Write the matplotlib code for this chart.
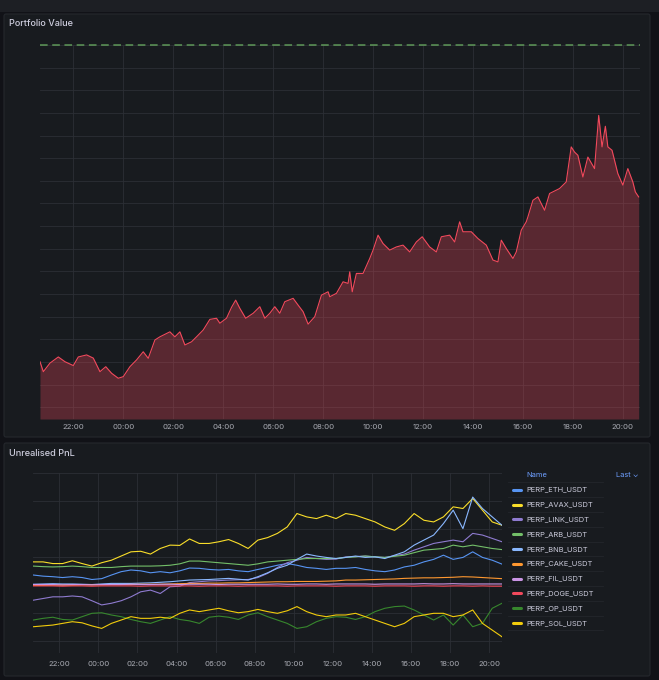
import datetime as dt

import matplotlib
matplotlib.use("Agg")
import matplotlib.pyplot as plt
import matplotlib.dates as mdates
from matplotlib.patches import FancyBboxPatch, Rectangle
from matplotlib.lines import Line2D
import numpy as np
import pandas as pd

plt.rcParams['font.family'] = ['Inter', 'DejaVu Sans']

# ---- data ----
pv_times = ["20:40", "20:48", "21:04", "21:24", "21:40", "22:00", "22:12", "22:32", "22:48", "23:04",
            "23:18", "23:32", "23:48", "00:00", "00:16", "00:32", "00:48", "01:00", "01:16", "01:28",
            "01:52", "02:04", "02:16", "02:28", "02:44", "02:56", "03:12", "03:28", "03:44", "03:52",
            "04:08", "04:20", "04:30", "04:40", "04:54", "05:12", "05:28", "05:40", "05:52", "06:04",
            "06:16", "06:28", "06:48", "07:00", "07:12", "07:24", "07:40", "07:56", "08:12", "08:16",
            "08:32", "08:48", "09:00", "09:04", "09:10", "09:20", "09:36", "09:52", "10:00", "10:12",
            "10:24", "10:40", "10:56", "11:12", "11:28", "11:44", "11:58", "12:16", "12:32", "12:44",
            "13:04", "13:16", "13:28", "13:36", "13:56", "14:12", "14:32", "14:48", "15:00", "15:08",
            "15:20", "15:36", "15:44", "15:56", "16:08", "16:12", "16:24", "16:36", "16:52", "17:04",
            "17:28", "17:44", "17:56", "18:04", "18:12", "18:24", "18:36", "18:52", "19:02", "19:10",
            "19:18", "19:24", "19:34", "19:48", "20:00", "20:12", "20:24", "20:30", "20:38"]
pv_values = [1030.1, 1025.7, 1029.5, 1032.2, 1030.1, 1028.4, 1032.2, 1033.1, 1031.7, 1025.7,
             1027.9, 1025.0, 1022.8, 1023.5, 1027.9, 1030.9, 1034.5, 1031.6, 1039.7, 1041.1,
             1043.3, 1041.1, 1043.3, 1037.5, 1038.9, 1041.1, 1044.1, 1048.8, 1049.3, 1047.1,
             1049.3, 1054.1, 1057.3, 1053.7, 1049.3, 1051.5, 1054.4, 1049.3, 1051.5, 1054.4,
             1051.5, 1056.6, 1058.1, 1055.1, 1052.2, 1046.7, 1050.0, 1059.5, 1061.0, 1058.8,
             1060.3, 1065.4, 1064.7, 1069.8, 1061.0, 1069.1, 1069.1, 1075.7, 1079.4, 1086.0,
             1082.3, 1079.4, 1080.8, 1081.6, 1078.6, 1083.0, 1085.3, 1080.8, 1078.6, 1085.3,
             1086.0, 1083.0, 1091.9, 1087.5, 1087.5, 1084.5, 1081.6, 1075.0, 1074.2, 1083.8,
             1080.1, 1075.7, 1078.6, 1088.2, 1091.9, 1094.1, 1101.4, 1102.9, 1097.0, 1104.4,
             1106.6, 1109.5, 1125.0, 1122.7, 1121.3, 1111.7, 1120.5, 1115.4, 1138.9, 1125.0,
             1134.1, 1125.0, 1123.5, 1113.2, 1108.1, 1115.4, 1109.5, 1105.1, 1102.9]
pv_threshold = 1170

series_names = ["PERP_ETH_USDT", "PERP_AVAX_USDT", "PERP_LINK_USDT", "PERP_ARB_USDT", "PERP_BNB_USDT",
                "PERP_CAKE_USDT", "PERP_FIL_USDT", "PERP_DOGE_USDT", "PERP_OP_USDT", "PERP_SOL_USDT"]
series_colors = ["#5794f2", "#fade2a", "#8f7bd0", "#73bf69", "#8ab8ff",
                 "#ff9830", "#ca95e5", "#f2495c", "#37872d", "#f2cc0c"]

# unrealised pnl, sampled every 30 min from 20:40
eth = [3.6, 3.2, 3.0, 2.7, 3.0, 2.7, 2.0, 2.3, 3.6, 4.8, 5.4, 5.1, 4.4, 4.8, 4.4, 5.1, 6.1,
       6.0, 5.6, 5.4, 5.6, 5.1, 4.8, 5.6, 6.3, 7.1, 7.7, 7.1, 6.3, 6.0, 5.6, 6.0, 6.0,
       6.3, 5.6, 5.1, 4.8, 5.4, 6.5, 7.1, 8.3, 9.2, 10.7, 9.2, 9.9, 11.9, 9.9, 8.9, 7.5]
avax = [8.3, 8.3, 7.7, 7.7, 8.7, 7.7, 6.8, 8.0, 8.9, 10.4, 11.9, 12.1, 11.1, 13.1, 14.3, 14.2, 16.5,
        14.9, 14.9, 15.5, 16.3, 14.9, 13.1, 16.1, 17.0, 18.5, 20.8, 25.6, 24.4, 23.8, 25.0, 23.8, 25.6,
        25.0, 23.8, 22.6, 20.8, 19.6, 22.0, 25.6, 23.2, 22.6, 24.4, 28.0, 27.4, 31.0, 26.8, 22.6, 21.4]
link = [-5.4, -4.8, -4.2, -4.2, -3.9, -4.2, -5.6, -7.1, -6.5, -5.6, -4.2, -2.4, -1.8, -3.0, -0.6, -0.4, 0.9,
        1.2, 1.5, 1.6, 1.8, 1.9, 2.0, 2.7, 4.2, 6.3, 8.0, 8.9, 9.9, 9.5, 9.2, 9.3, 10.1,
        10.2, 10.4, 10.1, 9.9, 10.5, 11.1, 12.5, 13.7, 14.9, 15.5, 16.1, 15.5, 18.5, 17.9, 16.7, 15.5]
arb = [6.8, 6.6, 6.5, 6.6, 6.8, 6.6, 6.3, 6.3, 6.3, 6.6, 6.8, 6.8, 6.8, 6.9, 7.1, 7.6, 8.6,
       8.6, 8.3, 8.0, 7.7, 7.4, 7.1, 7.6, 8.3, 8.6, 8.9, 9.2, 9.5, 9.5, 9.5, 9.5, 9.9,
       10.1, 10.4, 10.1, 9.9, 10.3, 10.7, 11.6, 12.5, 12.8, 13.1, 14.3, 13.7, 14.3, 13.7, 13.1, 12.7]
bnb = [0.3, 0.4, 0.5, 0.4, 0.4, 0.3, 0.2, 0.4, 0.6, 0.6, 0.6, 0.7, 0.8, 1.0, 1.2, 1.5, 1.8,
       1.9, 2.0, 2.2, 2.4, 2.1, 1.8, 3.0, 4.4, 6.0, 7.1, 9.2, 11.1, 10.4, 9.9, 9.5, 9.9,
       10.4, 9.9, 10.1, 9.5, 10.7, 11.9, 14.3, 16.1, 17.9, 22.0, 26.8, 20.2, 31.5, 27.4, 24.4, 21.4]
cake = [-0.1, -0.1, 0.0, 0.0, 0.0, 0.1, 0.1, 0.1, 0.2, 0.2, 0.2, 0.3, 0.3, 0.3, 0.4, 0.5, 0.6,
        0.6, 0.7, 0.7, 0.8, 0.8, 0.9, 1.0, 1.1, 1.2, 1.2, 1.3, 1.3, 1.3, 1.4, 1.5, 1.8,
        1.8, 1.9, 2.0, 2.1, 2.2, 2.4, 2.5, 2.6, 2.6, 2.7, 2.8, 3.0, 2.9, 2.7, 2.5, 2.3]
fil = [0.2, 0.2, 0.2, 0.1, 0.2, 0.2, 0.1, 0.2, 0.2, 0.2, 0.3, 0.2, 0.2, 0.3, 0.3, 0.2, 0.3,
       0.3, 0.3, 0.2, 0.3, 0.3, 0.3, 0.3, 0.3, 0.4, 0.3, 0.3, 0.4, 0.4, 0.3, 0.4, 0.4,
       0.4, 0.4, 0.3, 0.4, 0.4, 0.4, 0.4, 0.5, 0.4, 0.4, 0.5, 0.4, 0.4, 0.4, 0.4, 0.4]
doge = [-0.3, -0.3, -0.3, -0.4, -0.3, -0.3, -0.4, -0.3, -0.3, -0.3, -0.3, -0.4, -0.3, -0.3, -0.3, -0.3, -0.3,
        -0.4, -0.3, -0.3, -0.3, -0.4, -0.3, -0.3, -0.3, -0.3, -0.4, -0.3, -0.3, -0.3, -0.3, -0.4, -0.3,
        -0.3, -0.3, -0.4, -0.3, -0.3, -0.3, -0.4, -0.3, -0.3, -0.4, -0.3, -0.3, -0.4, -0.3, -0.4, -0.4]
op = [-12.5, -11.9, -11.5, -12.3, -12.5, -11.3, -10.1, -9.9, -10.7, -11.3, -12.3, -13.1, -13.7, -12.5, -11.3, -12.3, -12.8,
      -13.7, -11.5, -11.1, -11.5, -12.3, -10.7, -9.9, -11.3, -12.5, -13.7, -15.5, -14.9, -13.1, -11.9, -11.3, -11.5,
      -12.3, -11.3, -9.5, -8.3, -7.7, -7.5, -8.9, -10.7, -12.5, -10.7, -14.3, -10.7, -14.9, -13.7, -8.3, -6.5]
sol = [-14.9, -14.6, -14.3, -13.7, -13.1, -13.5, -14.6, -15.5, -13.7, -12.5, -11.3, -11.9, -11.9, -11.5, -11.9, -10.1, -8.9,
       -9.5, -8.9, -8.3, -9.2, -9.9, -9.5, -8.7, -9.5, -10.1, -9.2, -7.7, -9.5, -10.7, -11.3, -10.7, -10.7,
       -10.1, -11.3, -12.5, -13.7, -14.9, -13.7, -11.3, -10.7, -10.1, -10.1, -11.3, -10.7, -8.9, -13.7, -16.1, -18.5]
pnl_series = [eth, avax, link, arb, bnb, cake, fil, doge, op, sol]

start = dt.datetime(2024, 1, 1, 20, 40)
end = start + dt.timedelta(hours=24)
pnl_times = pd.date_range(start, periods=len(eth), freq="30min")

# turn the HH:MM strings into datetimes, rolling over midnight
pv_dt = []
day = start.date()
prev = None
for s in pv_times:
    t = dt.datetime.strptime(s, "%H:%M").time()
    if prev is not None and t < prev:
        day = day + dt.timedelta(days=1)
    prev = t
    pv_dt.append(dt.datetime.combine(day, t))

# ---- figure / grafana-ish chrome ----
W, H = 659, 680
BG = "#111217"
PANEL = "#181b1f"
GRID = "#2c2f35"
TEXT = "#ccccdc"
TICK = "#a9abb3"

fig = plt.figure(figsize=(W / 100, H / 100), dpi=100, facecolor=BG)


def fx(x):
    return x / W


def fy(y):
    return 1 - y / H


fig.patches.append(Rectangle((0, fy(12)), 1, 12 / H, transform=fig.transFigure,
                             facecolor="#1d1f24", edgecolor="none", zorder=-5))
for top, bottom in [(14, 437), (443, 676)]:
    fig.patches.append(FancyBboxPatch((fx(4), fy(bottom)), fx(650) - fx(4), (bottom - top) / H,
                                      boxstyle="round,pad=0,rounding_size=0.003",
                                      transform=fig.transFigure, facecolor=PANEL,
                                      edgecolor="#25282d", linewidth=0.8, zorder=-5))

fig.text(fx(9), fy(24), "Portfolio Value", color=TEXT, fontsize=6.6, fontweight="medium", va="center")
fig.text(fx(9), fy(453), "Unrealised PnL", color=TEXT, fontsize=6.6, fontweight="medium", va="center")


def style_axes(ax, pad):
    ax.set_facecolor(PANEL)
    for sp in ax.spines.values():
        sp.set_visible(False)
    ax.grid(True, color=GRID, linewidth=0.6)
    ax.set_axisbelow(True)
    ax.tick_params(length=0, colors=TICK, labelsize=5.6, pad=pad)
    ax.set_yticklabels([])
    ax.xaxis.set_major_locator(mdates.HourLocator(byhour=range(0, 24, 2)))
    ax.xaxis.set_major_formatter(mdates.DateFormatter("%H:%M"))
    ax.set_xlim(start, end)


# top panel
ax1 = fig.add_axes([fx(40), fy(419), fx(639.5) - fx(40), (419 - 45) / H])
ax1.set_yticks(np.arange(1010, 1171, 10))
style_axes(ax1, 3.4)
ax1.set_ylim(1004.8, pv_threshold)
ax1.fill_between(pv_dt, pv_values, 1004.8, color="#f2495c", alpha=0.3, linewidth=0)
ax1.plot(pv_dt, pv_values, color="#f2495c", linewidth=0.8)
ax1.axhline(pv_threshold, color="#73bf69", alpha=0.75, linewidth=1.1,
            linestyle=(0, (5, 3)), clip_on=False)

# bottom panel
ax2 = fig.add_axes([fx(33.3), fy(653), fx(502) - fx(33.3), (653 - 473.3) / H])
ax2.set_yticks(np.arange(-20, 41, 10))
style_axes(ax2, 5.5)
ax2.set_ylim(-24.3, 40)
for vals, c in zip(pnl_series, series_colors):
    ax2.plot(pnl_times, vals, color=c, linewidth=0.8)

# legend table
fig.text(fx(526.7), fy(474.7), "Name", color="#6e9fff", fontsize=5.4, va="center")
fig.text(fx(639), fy(474.7), "Last \u2304", color="#6e9fff", fontsize=5.4, va="center", ha="right")
row_y = [489.7 + 14.8 * i for i in range(len(series_names))]
for i, (name, c) in enumerate(zip(series_names, series_colors)):
    y = row_y[i]
    fig.add_artist(Line2D([fx(513), fx(521)], [fy(y), fy(y)], color=c, linewidth=2.2,
                          solid_capstyle="round", transform=fig.transFigure))
    fig.text(fx(526.7), fy(y), name, color=TEXT, fontsize=5.4, va="center")
    sep = y - 7.4
    fig.add_artist(Line2D([fx(508), fx(603)], [fy(sep), fy(sep)], color="#23262b",
                          linewidth=0.6, transform=fig.transFigure))
fig.add_artist(Line2D([fx(508), fx(603)], [fy(row_y[-1] + 7.4)] * 2, color="#23262b",
                      linewidth=0.6, transform=fig.transFigure))

fig.savefig("out.png", dpi=100, facecolor=BG)
